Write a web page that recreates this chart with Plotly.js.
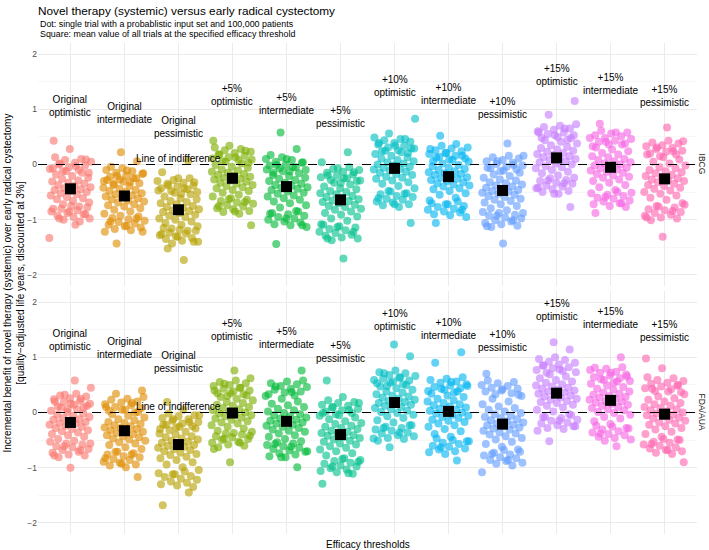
<!DOCTYPE html>
<html><head><meta charset="utf-8">
<script src="https://cdn.plot.ly/plotly-3.0.1.min.js"></script>
<style>body{margin:0;background:#fff}#chart{width:709px;height:550px}</style>
</head><body><div id="chart"></div>
<script>
// ---- data ----
const thresholds = ['Original','Original','Original','+5%','+5%','+5%','+10%','+10%','+10%','+15%','+15%','+15%'];
const scenarios = ['optimistic','intermediate','pessimistic','optimistic','intermediate','pessimistic','optimistic','intermediate','pessimistic','optimistic','intermediate','pessimistic'];
const panels = ['IBCG','FDA/AUA'];
const meansIBCG = [-0.44,-0.57,-0.82,-0.25,-0.40,-0.64,-0.07,-0.22,-0.47,0.12,-0.05,-0.26];
const meansFDA  = [-0.18,-0.33,-0.58,-0.01,-0.16,-0.40,0.18,0.02,-0.21,0.35,0.22,-0.03];

const trialsIBCG = [
[-1.33,-1.09,-0.98,-0.90,-0.85,-0.80,-0.76,-0.72,-0.69,-0.66,-0.63,-0.61,-0.59,-0.56,-0.54,-0.52,-0.50,-0.48,-0.46,-0.45,-0.43,-0.41,-0.39,-0.37,-0.35,-0.33,-0.31,-0.29,-0.26,-0.24,-0.21,-0.18,-0.15,-0.12,-0.08,-0.03,0.02,0.09,0.28,0.43,
 -1.03,-1.00,-0.98,-0.95,-0.93,-0.90,-0.88,-0.85,-0.83,-0.80,-0.78,-0.75,0.13,0.10,0.08,0.05,0.03,0.00,-0.02,-0.05,-0.07,-0.10,-0.12,-0.15],
[-1.43,-1.22,-1.11,-1.03,-0.98,-0.93,-0.89,-0.85,-0.82,-0.79,-0.76,-0.74,-0.72,-0.69,-0.67,-0.65,-0.63,-0.61,-0.59,-0.58,-0.56,-0.54,-0.52,-0.50,-0.48,-0.46,-0.44,-0.42,-0.39,-0.37,-0.34,-0.31,-0.28,-0.25,-0.21,-0.16,-0.11,-0.04,0.06,0.22,
 -1.22,-1.19,-1.17,-1.14,-1.12,-1.09,-1.07,-1.04,-1.02,-0.99,-0.97,-0.94,-0.07,-0.10,-0.12,-0.15,-0.17,-0.20,-0.22,-0.25,-0.27,-0.30,-0.32,-0.35],
[-1.73,-1.52,-1.40,-1.31,-1.26,-1.20,-1.16,-1.12,-1.09,-1.06,-1.03,-1.00,-0.98,-0.95,-0.93,-0.91,-0.88,-0.86,-0.84,-0.83,-0.81,-0.79,-0.77,-0.75,-0.72,-0.70,-0.68,-0.66,-0.63,-0.61,-0.58,-0.54,-0.51,-0.47,-0.43,-0.38,-0.32,-0.25,-0.14,0.07,
 -1.43,-1.40,-1.38,-1.35,-1.33,-1.30,-1.28,-1.25,-1.23,-1.20,-1.18,-1.15,-0.25,-0.28,-0.30,-0.33,-0.35,-0.38,-0.40,-0.43,-0.45,-0.48,-0.50,-0.53],
[-1.10,-0.85,-0.75,-0.68,-0.63,-0.58,-0.55,-0.51,-0.48,-0.46,-0.43,-0.41,-0.39,-0.37,-0.35,-0.33,-0.31,-0.29,-0.27,-0.26,-0.24,-0.22,-0.20,-0.19,-0.17,-0.15,-0.13,-0.11,-0.09,-0.06,-0.04,-0.01,0.02,0.05,0.09,0.13,0.18,0.25,0.34,0.43,
 -0.89,-0.86,-0.84,-0.81,-0.79,-0.76,-0.74,-0.71,-0.69,-0.66,-0.64,-0.61,0.31,0.28,0.26,0.23,0.21,0.18,0.16,0.13,0.11,0.08,0.06,0.03],
[-1.44,-1.10,-0.98,-0.89,-0.84,-0.78,-0.74,-0.70,-0.67,-0.64,-0.61,-0.58,-0.56,-0.53,-0.51,-0.49,-0.46,-0.44,-0.42,-0.41,-0.39,-0.37,-0.35,-0.33,-0.30,-0.28,-0.26,-0.24,-0.21,-0.19,-0.16,-0.12,-0.09,-0.05,-0.01,0.04,0.10,0.17,0.28,0.58,
 -1.13,-1.10,-1.08,-1.05,-1.03,-1.00,-0.98,-0.95,-0.93,-0.90,-0.88,-0.85,0.13,0.10,0.08,0.05,0.03,0.00,-0.02,-0.05,-0.07,-0.10,-0.12,-0.15],
[-1.70,-1.34,-1.22,-1.13,-1.08,-1.02,-0.98,-0.94,-0.91,-0.88,-0.85,-0.82,-0.80,-0.77,-0.75,-0.73,-0.70,-0.68,-0.66,-0.65,-0.63,-0.61,-0.59,-0.57,-0.54,-0.52,-0.50,-0.48,-0.45,-0.43,-0.40,-0.36,-0.33,-0.29,-0.25,-0.20,-0.14,-0.07,0.04,0.22,
 -1.37,-1.34,-1.32,-1.29,-1.27,-1.24,-1.22,-1.19,-1.17,-1.14,-1.12,-1.09,-0.05,-0.08,-0.10,-0.13,-0.15,-0.18,-0.20,-0.23,-0.25,-0.28,-0.30,-0.33],
[-1.06,-0.72,-0.61,-0.53,-0.48,-0.43,-0.39,-0.35,-0.32,-0.29,-0.26,-0.24,-0.22,-0.19,-0.17,-0.15,-0.13,-0.11,-0.09,-0.08,-0.06,-0.04,-0.02,0.00,0.02,0.04,0.06,0.08,0.11,0.13,0.16,0.19,0.22,0.25,0.29,0.34,0.39,0.46,0.56,0.83,
 -0.77,-0.74,-0.72,-0.69,-0.67,-0.64,-0.62,-0.59,-0.57,-0.54,-0.52,-0.49,0.49,0.46,0.44,0.41,0.39,0.36,0.34,0.31,0.29,0.26,0.24,0.21],
[-1.06,-0.82,-0.72,-0.65,-0.60,-0.55,-0.52,-0.48,-0.45,-0.43,-0.40,-0.38,-0.36,-0.34,-0.32,-0.30,-0.28,-0.26,-0.24,-0.23,-0.21,-0.19,-0.17,-0.16,-0.14,-0.12,-0.10,-0.08,-0.06,-0.03,-0.01,0.02,0.05,0.08,0.12,0.16,0.21,0.28,0.37,0.52,
 -0.95,-0.92,-0.90,-0.87,-0.85,-0.82,-0.80,-0.77,-0.75,-0.72,-0.70,-0.67,0.34,0.31,0.29,0.26,0.24,0.21,0.19,0.16,0.14,0.11,0.09,0.06],
[-1.43,-1.12,-1.01,-0.93,-0.88,-0.83,-0.79,-0.75,-0.72,-0.69,-0.66,-0.64,-0.62,-0.59,-0.57,-0.55,-0.53,-0.51,-0.49,-0.48,-0.46,-0.44,-0.42,-0.40,-0.38,-0.36,-0.34,-0.32,-0.29,-0.27,-0.24,-0.21,-0.18,-0.15,-0.11,-0.06,-0.01,0.06,0.16,0.38,
 -1.13,-1.11,-1.08,-1.06,-1.03,-1.01,-0.98,-0.96,-0.93,-0.91,-0.88,-0.86,0.16,0.13,0.11,0.08,0.06,0.03,0.01,-0.02,-0.04,-0.07,-0.09,-0.12],
[-0.77,-0.53,-0.42,-0.34,-0.29,-0.24,-0.20,-0.16,-0.13,-0.10,-0.07,-0.05,-0.03,0.00,0.02,0.04,0.06,0.08,0.10,0.11,0.13,0.15,0.17,0.19,0.21,0.23,0.25,0.27,0.30,0.32,0.35,0.38,0.41,0.44,0.48,0.53,0.58,0.65,0.90,1.15,
 -0.53,-0.50,-0.48,-0.45,-0.43,-0.40,-0.38,-0.35,-0.33,-0.30,-0.28,-0.25,0.73,0.70,0.68,0.65,0.63,0.60,0.58,0.55,0.53,0.50,0.48,0.45],
[-0.88,-0.70,-0.59,-0.51,-0.46,-0.41,-0.37,-0.33,-0.30,-0.27,-0.24,-0.22,-0.20,-0.17,-0.15,-0.13,-0.11,-0.09,-0.07,-0.06,-0.04,-0.02,0.00,0.02,0.04,0.06,0.08,0.10,0.13,0.15,0.18,0.21,0.24,0.27,0.31,0.36,0.41,0.48,0.58,0.74,
 -0.77,-0.75,-0.72,-0.70,-0.67,-0.65,-0.62,-0.60,-0.57,-0.55,-0.52,-0.50,0.61,0.58,0.56,0.53,0.51,0.48,0.46,0.43,0.41,0.38,0.36,0.33],
[-1.31,-0.96,-0.84,-0.75,-0.70,-0.64,-0.60,-0.56,-0.53,-0.50,-0.47,-0.44,-0.42,-0.39,-0.37,-0.35,-0.32,-0.30,-0.28,-0.27,-0.25,-0.23,-0.21,-0.19,-0.16,-0.14,-0.12,-0.10,-0.07,-0.05,-0.02,0.02,0.05,0.09,0.13,0.18,0.24,0.31,0.42,0.67,
 -1.01,-0.98,-0.96,-0.93,-0.91,-0.88,-0.86,-0.83,-0.81,-0.78,-0.76,-0.73,0.43,0.40,0.38,0.35,0.33,0.30,0.28,0.25,0.23,0.20,0.18,0.15]
];

const trialsFDA = [
[-1.00,-0.78,-0.68,-0.61,-0.56,-0.51,-0.48,-0.44,-0.41,-0.39,-0.36,-0.34,-0.32,-0.30,-0.28,-0.26,-0.24,-0.22,-0.20,-0.19,-0.17,-0.15,-0.13,-0.12,-0.10,-0.08,-0.06,-0.04,-0.02,0.01,0.03,0.06,0.09,0.12,0.16,0.20,0.25,0.32,0.45,0.58,
 -0.81,-0.78,-0.76,-0.73,-0.71,-0.68,-0.66,-0.63,-0.61,-0.58,-0.56,-0.53,0.34,0.31,0.29,0.26,0.24,0.21,0.19,0.16,0.14,0.11,0.09,0.06],
[-1.17,-0.93,-0.83,-0.76,-0.71,-0.66,-0.63,-0.59,-0.56,-0.54,-0.51,-0.49,-0.47,-0.45,-0.43,-0.41,-0.39,-0.37,-0.35,-0.34,-0.32,-0.30,-0.28,-0.27,-0.25,-0.23,-0.21,-0.19,-0.17,-0.14,-0.12,-0.09,-0.06,-0.03,0.01,0.05,0.10,0.17,0.34,0.40,
 -0.99,-0.96,-0.94,-0.91,-0.89,-0.86,-0.84,-0.81,-0.79,-0.76,-0.74,-0.71,0.28,0.25,0.23,0.20,0.18,0.15,0.13,0.10,0.08,0.05,0.03,0.00],
[-1.68,-1.45,-1.12,-1.04,-0.99,-0.94,-0.90,-0.86,-0.83,-0.80,-0.77,-0.75,-0.73,-0.70,-0.68,-0.66,-0.64,-0.62,-0.60,-0.59,-0.57,-0.55,-0.53,-0.51,-0.49,-0.47,-0.45,-0.43,-0.40,-0.38,-0.35,-0.32,-0.29,-0.26,-0.22,-0.17,-0.12,-0.05,0.05,0.19,
 -1.35,-1.32,-1.30,-1.27,-1.25,-1.22,-1.20,-1.17,-1.15,-1.12,-1.10,-1.07,-0.02,-0.05,-0.07,-0.10,-0.12,-0.15,-0.17,-0.20,-0.22,-0.25,-0.27,-0.30],
[-0.90,-0.66,-0.55,-0.47,-0.42,-0.37,-0.33,-0.29,-0.26,-0.23,-0.20,-0.18,-0.16,-0.13,-0.11,-0.09,-0.07,-0.05,-0.03,-0.02,0.00,0.02,0.04,0.06,0.08,0.10,0.12,0.14,0.17,0.19,0.22,0.25,0.28,0.31,0.35,0.40,0.45,0.52,0.62,0.76,
 -0.63,-0.60,-0.58,-0.55,-0.53,-0.50,-0.48,-0.45,-0.43,-0.40,-0.38,-0.35,0.58,0.55,0.53,0.50,0.48,0.45,0.43,0.40,0.38,0.35,0.33,0.30],
[-0.99,-0.81,-0.70,-0.62,-0.57,-0.52,-0.48,-0.44,-0.41,-0.38,-0.35,-0.33,-0.31,-0.28,-0.26,-0.24,-0.22,-0.20,-0.18,-0.17,-0.15,-0.13,-0.11,-0.09,-0.07,-0.05,-0.03,-0.01,0.02,0.04,0.07,0.10,0.13,0.16,0.20,0.25,0.30,0.37,0.47,0.76,
 -0.81,-0.79,-0.76,-0.74,-0.71,-0.69,-0.66,-0.64,-0.61,-0.59,-0.56,-0.54,0.58,0.56,0.53,0.51,0.48,0.46,0.43,0.41,0.38,0.36,0.33,0.31],
[-1.29,-1.10,-0.98,-0.89,-0.84,-0.78,-0.74,-0.70,-0.67,-0.64,-0.61,-0.58,-0.56,-0.53,-0.51,-0.49,-0.46,-0.44,-0.42,-0.41,-0.39,-0.37,-0.35,-0.33,-0.30,-0.28,-0.26,-0.24,-0.21,-0.19,-0.16,-0.12,-0.09,-0.05,-0.01,0.04,0.10,0.17,0.28,0.58,
 -1.11,-1.08,-1.06,-1.03,-1.01,-0.98,-0.96,-0.93,-0.91,-0.88,-0.86,-0.83,0.22,0.19,0.17,0.14,0.12,0.09,0.07,0.04,0.02,-0.01,-0.03,-0.06],
[-0.63,-0.47,-0.36,-0.28,-0.23,-0.18,-0.14,-0.10,-0.07,-0.04,-0.01,0.01,0.03,0.06,0.08,0.10,0.12,0.14,0.16,0.17,0.19,0.21,0.23,0.25,0.27,0.29,0.31,0.33,0.36,0.38,0.41,0.44,0.47,0.50,0.54,0.59,0.64,0.71,1.02,1.23,
 -0.51,-0.48,-0.46,-0.43,-0.41,-0.38,-0.36,-0.33,-0.31,-0.28,-0.26,-0.23,0.76,0.73,0.71,0.68,0.66,0.63,0.61,0.58,0.56,0.53,0.51,0.48],
[-0.87,-0.63,-0.52,-0.44,-0.39,-0.34,-0.30,-0.26,-0.23,-0.20,-0.17,-0.15,-0.13,-0.10,-0.08,-0.06,-0.04,-0.02,0.00,0.01,0.03,0.05,0.07,0.09,0.11,0.13,0.15,0.17,0.20,0.22,0.25,0.28,0.31,0.34,0.38,0.43,0.48,0.55,0.90,1.09,
 -0.75,-0.72,-0.70,-0.67,-0.65,-0.62,-0.60,-0.57,-0.55,-0.52,-0.50,-0.47,0.64,0.61,0.59,0.56,0.54,0.51,0.49,0.46,0.44,0.41,0.39,0.36],
[-1.08,-0.86,-0.75,-0.67,-0.62,-0.57,-0.53,-0.49,-0.46,-0.43,-0.40,-0.38,-0.36,-0.33,-0.31,-0.29,-0.27,-0.25,-0.23,-0.22,-0.20,-0.18,-0.16,-0.14,-0.12,-0.10,-0.08,-0.06,-0.03,-0.01,0.02,0.05,0.08,0.11,0.15,0.20,0.25,0.32,0.42,0.70,
 -0.96,-0.93,-0.91,-0.88,-0.86,-0.83,-0.81,-0.78,-0.76,-0.73,-0.71,-0.68,0.58,0.55,0.53,0.50,0.48,0.45,0.43,0.40,0.38,0.35,0.33,0.30],
[-0.52,-0.25,-0.15,-0.08,-0.03,0.02,0.05,0.09,0.12,0.14,0.17,0.19,0.21,0.23,0.25,0.27,0.29,0.31,0.33,0.34,0.36,0.38,0.40,0.41,0.43,0.45,0.47,0.49,0.51,0.54,0.56,0.59,0.62,0.65,0.69,0.73,0.78,0.85,1.14,1.27,
 -0.33,-0.30,-0.28,-0.25,-0.23,-0.20,-0.18,-0.15,-0.13,-0.10,-0.08,-0.05,1.00,0.97,0.95,0.92,0.90,0.87,0.85,0.82,0.80,0.77,0.75,0.72],
[-0.61,-0.38,-0.28,-0.21,-0.16,-0.11,-0.08,-0.04,-0.01,0.01,0.04,0.06,0.08,0.10,0.12,0.14,0.16,0.18,0.20,0.21,0.23,0.25,0.27,0.28,0.30,0.32,0.34,0.36,0.38,0.41,0.43,0.46,0.49,0.52,0.56,0.60,0.65,0.72,0.81,1.00,
 -0.51,-0.49,-0.46,-0.44,-0.41,-0.39,-0.36,-0.34,-0.31,-0.29,-0.26,-0.24,0.82,0.79,0.77,0.74,0.72,0.69,0.67,0.64,0.62,0.59,0.57,0.54],
[-0.90,-0.68,-0.57,-0.49,-0.44,-0.39,-0.35,-0.31,-0.28,-0.25,-0.22,-0.20,-0.18,-0.15,-0.13,-0.11,-0.09,-0.07,-0.05,-0.04,-0.02,0.00,0.02,0.04,0.06,0.08,0.10,0.12,0.15,0.17,0.20,0.23,0.26,0.29,0.33,0.38,0.43,0.50,0.80,0.98,
 -0.75,-0.73,-0.70,-0.68,-0.65,-0.63,-0.60,-0.58,-0.55,-0.53,-0.50,-0.48,0.64,0.62,0.59,0.57,0.54,0.52,0.49,0.47,0.44,0.42,0.39,0.37]
];

const colors = ['#F8766D','#DE8C00','#B79F00','#7CAE00','#00BA38','#00C08B','#00BFC4','#00B4F0','#619CFF','#C77CFF','#F564E3','#FF64B0'];

// ---- drawing ----
const FONT = 'Liberation Sans, Arial, Helvetica, sans-serif';
const jw = 0.39;
function jit(i, k, phase) {
  const f = (i * 0.6180339887 + k * 0.3141 + phase) % 1;
  return (f - 0.5) * 2 * jw;
}
const traces = [];
function addPanel(trials, means, xa, ya, phase) {
  trials.forEach((vals, k) => {
    traces.push({
      type: 'scatter', mode: 'markers', xaxis: xa, yaxis: ya,
      x: vals.map((v, i) => k + 1 + jit(i, k, phase)), y: vals,
      marker: {color: colors[k], size: 8, opacity: 0.62, line: {width: 0}},
      hoverinfo: 'y', showlegend: false
    });
  });
  traces.push({
    type: 'scatter', mode: 'markers', xaxis: xa, yaxis: ya,
    x: means.map((m, k) => k + 1), y: means,
    marker: {color: '#000', size: 11, symbol: 'square', line: {width: 0}},
    hoverinfo: 'y', showlegend: false
  });
}
addPanel(trialsIBCG, meansIBCG, 'x', 'y', 0.0);
addPanel(trialsFDA, meansFDA, 'x2', 'y2', 0.5);

const annotations = [];
function addLabels(means, xa, ya) {
  means.forEach((m, k) => {
    annotations.push({
      xref: xa, yref: ya, x: k + 1, y: m + 1.5,
      text: thresholds[k] + '<br>' + scenarios[k], showarrow: false,
      font: {family: FONT, size: 10, color: '#000'}, xanchor: 'center', yanchor: 'middle'
    });
  });
  annotations.push({
    xref: xa, yref: ya, x: 3, y: 0.11, text: 'Line of indifference', showarrow: false,
    font: {family: FONT, size: 10, color: '#000'}, xanchor: 'center', yanchor: 'middle'
  });
}
addLabels(meansIBCG, 'x', 'y');
addLabels(meansFDA, 'x2', 'y2');

// strip labels, subtitle, axis titles
annotations.push({xref: 'paper', yref: 'paper', x: 1.009, y: 0.7525, text: panels[0], textangle: 90,
  showarrow: false, font: {family: FONT, size: 8.5, color: '#1a1a1a'}, xanchor: 'center', yanchor: 'middle'});
annotations.push({xref: 'paper', yref: 'paper', x: 1.009, y: 0.2474, text: panels[1], textangle: 90,
  showarrow: false, font: {family: FONT, size: 8.5, color: '#1a1a1a'}, xanchor: 'center', yanchor: 'middle'});
annotations.push({xref: 'paper', yref: 'paper', x: 0, y: 1.0387, text: 'Dot: single trial with a probablistic input set and 100,000 patients',
  showarrow: false, font: {family: FONT, size: 8.9, color: '#000'}, xanchor: 'left', yanchor: 'middle'});
annotations.push({xref: 'paper', yref: 'paper', x: 0, y: 1.0183, text: 'Square: mean value of all trials at the specified efficacy threshold',
  showarrow: false, font: {family: FONT, size: 8.9, color: '#000'}, xanchor: 'left', yanchor: 'middle'});
annotations.push({xref: 'paper', yref: 'paper', x: -0.0364, y: 0.51,
  text: 'Incremental benefit of novel therapy (systemic) over early radical cystectomy<br>[quality\u2212adjusted life years, discounted at 3%]',
  textangle: -90, showarrow: false, font: {family: FONT, size: 10, color: '#000'}, xanchor: 'center', yanchor: 'middle'});
annotations.push({xref: 'paper', yref: 'paper', x: 0.5, y: -0.0204, text: 'Efficacy thresholds',
  showarrow: false, font: {family: FONT, size: 10, color: '#000'}, xanchor: 'center', yanchor: 'middle'});

const xax = {
  range: [0.4, 12.6], tickvals: [1,2,3,4,5,6,7,8,9,10,11,12], showticklabels: false,
  showgrid: true, gridcolor: '#ebebeb', gridwidth: 1, zeroline: false, showline: false, ticks: ''
};
const yax = {
  range: [-2.2, 2.2], tickvals: [-2,-1,0,1,2], showgrid: true, gridcolor: '#ebebeb', gridwidth: 1,
  zeroline: false, showline: false, ticks: '',
  tickfont: {family: FONT, size: 8.5, color: '#4d4d4d'},
  minor: {tickvals: [-1.5,-0.5,0.5,1.5], showgrid: true, gridcolor: '#f2f2f2', gridwidth: 0.6, ticks: ''}
};

const layout = {
  width: 709, height: 550,
  margin: {l: 38, r: 12, t: 43, b: 16},
  paper_bgcolor: '#fff', plot_bgcolor: '#fff',
  title: {text: 'Novel therapy (systemic) versus early radical cystectomy', x: 0, xref: 'paper', xanchor: 'left',
    y: 1 - 11 / 550, yref: 'container', yanchor: 'middle', font: {family: FONT, size: 11.8, color: '#000'}},
  xaxis: Object.assign({}, xax, {anchor: 'y'}),
  xaxis2: Object.assign({}, xax, {anchor: 'y2'}),
  yaxis: Object.assign({}, yax, {domain: [0.5051, 1], anchor: 'x'}),
  yaxis2: Object.assign({}, yax, {domain: [0, 0.4949], anchor: 'x2'}),
  shapes: [
    {type: 'line', xref: 'x domain', yref: 'y', x0: 0, x1: 1, y0: 0, y1: 0, line: {color: '#000', width: 1, dash: 'dash'}},
    {type: 'line', xref: 'x2 domain', yref: 'y2', x0: 0, x1: 1, y0: 0, y1: 0, line: {color: '#000', width: 1, dash: 'dash'}}
  ],
  annotations: annotations,
  showlegend: false
};

Plotly.newPlot('chart', traces, layout, {displayModeBar: false, staticPlot: true});
</script>
</body></html>
